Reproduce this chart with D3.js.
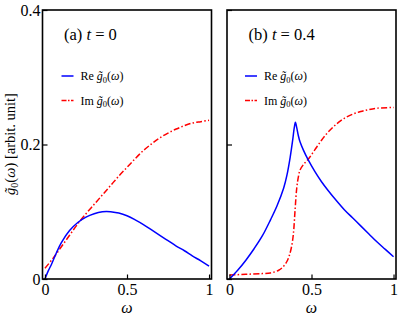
<!DOCTYPE html>
<html><head><meta charset="utf-8"><script src="https://cdn.jsdelivr.net/npm/d3@7"></script></head>
<body style="margin:0">
<svg id="chart" width="411" height="319"></svg>
<script>
// ---- data ----
const omegaA = [0, 0.02, 0.04, 0.07, 0.1, 0.15, 0.2, 0.25, 0.3, 0.35, 0.375, 0.4, 0.45, 0.5, 0.55, 0.6, 0.65, 0.7, 0.75, 0.8, 0.85, 0.9, 0.95, 1.0];
const reA    = [0, 0.012, 0.022, 0.039, 0.054, 0.072, 0.084, 0.092, 0.097, 0.1, 0.1005, 0.1, 0.098, 0.094, 0.088, 0.081, 0.073, 0.065, 0.057, 0.049, 0.042, 0.034, 0.027, 0.019];
const omegaAim = [0, 0.05, 0.1, 0.15, 0.2, 0.25, 0.3, 0.35, 0.4, 0.45, 0.5, 0.55, 0.6, 0.65, 0.7, 0.75, 0.8, 0.85, 0.9, 0.95, 1.0];
const imA    = [0.016, 0.031, 0.048, 0.065, 0.082, 0.097, 0.111, 0.125, 0.139, 0.153, 0.166, 0.179, 0.191, 0.201, 0.21, 0.217, 0.223, 0.228, 0.232, 0.234, 0.236];

const omegaB = [0, 0.05, 0.1, 0.15, 0.2, 0.25, 0.29, 0.33, 0.35, 0.37, 0.385, 0.395, 0.402, 0.41, 0.42, 0.43, 0.45, 0.48, 0.52, 0.56, 0.6, 0.65, 0.7, 0.75, 0.8, 0.85, 0.9, 0.95, 1.0];
const reB    = [0, 0.013, 0.028, 0.045, 0.064, 0.088, 0.109, 0.135, 0.154, 0.181, 0.206, 0.225, 0.233, 0.225, 0.213, 0.204, 0.192, 0.177, 0.16, 0.145, 0.132, 0.117, 0.103, 0.091, 0.079, 0.067, 0.055, 0.044, 0.033];
const omegaBim = [0, 0.1, 0.2, 0.25, 0.3, 0.33, 0.35, 0.365, 0.38, 0.39, 0.4, 0.41, 0.42, 0.43, 0.45, 0.48, 0.52, 0.56, 0.6, 0.65, 0.7, 0.75, 0.8, 0.85, 0.9, 1.0];
const imB    = [0.006, 0.007, 0.008, 0.009, 0.013, 0.019, 0.026, 0.035, 0.05, 0.068, 0.103, 0.135, 0.152, 0.162, 0.17, 0.178, 0.192, 0.206, 0.218, 0.23, 0.239, 0.245, 0.249, 0.252, 0.254, 0.255];

const yTicks = [0, 0.2, 0.4];
const yTickLabels = ["0", "0.2", "0.4"];
const xTicks = [0, 0.5, 1];
const xTickLabels = ["0", "0.5", "1"];
const panelTitles = [["(a) ", "t", " = 0"], ["(b) ", "t", " = 0.4"]];

const panels = [
  { x0: 42.5, re: { w: omegaA, v: reA }, im: { w: omegaAim, v: imA }, title: panelTitles[0], labels: true },
  { x0: 227,  re: { w: omegaB, v: reB }, im: { w: omegaBim, v: imB }, title: panelTitles[1], labels: false }
];

const FONT = "Liberation Serif";
const svg = d3.select("#chart");
const W = 169, plotTop = 10, plotBottom = 279;
const y = d3.scaleLinear().domain([0, 0.4]).range([plotBottom, plotTop]);
const blue = "#0000ff", red = "#ff0000";

function serif(sel, size) {
  return sel.attr("font-family", FONT).style("font-family", FONT).attr("font-size", size).style("font-size", size + "px");
}

panels.forEach(p => {
  const x = d3.scaleLinear().domain([-0.015, 1.015]).range([p.x0, p.x0 + W]);
  const g = svg.append("g");

  const cid = "clip" + Math.round(p.x0);
  svg.append("clipPath").attr("id", cid).append("rect")
    .attr("x", p.x0).attr("y", plotTop).attr("width", W).attr("height", plotBottom - plotTop);

  const line = d3.line().x(d => x(d[0])).y(d => y(d[1])).curve(d3.curveCatmullRom.alpha(0.5));

  g.append("path").datum(d3.zip(p.im.w, p.im.v))
    .attr("d", line).attr("fill", "none").attr("stroke", red)
    .attr("stroke-width", 1.5).attr("stroke-dasharray", "6,2.2,1.5,2.2")
    .attr("clip-path", `url(#${cid})`);
  g.append("path").datum(d3.zip(p.re.w, p.re.v))
    .attr("d", line).attr("fill", "none").attr("stroke", blue)
    .attr("stroke-width", 1.5)
    .attr("clip-path", `url(#${cid})`);

  const xa = d3.axisBottom(x).tickValues(xTicks).tickSizeInner(-4.5).tickSizeOuter(0).tickPadding(5)
    .tickFormat((d, i) => xTickLabels[i]);
  const gx = g.append("g").attr("transform", `translate(0,${plotBottom})`).call(xa)
    .attr("font-family", FONT).attr("font-size", 16);
  gx.select(".domain").remove();
  gx.selectAll("line").attr("stroke", "#000").attr("stroke-width", 1.2);
  serif(gx.selectAll("text"), 16).attr("fill", "#000");

  const ya = d3.axisLeft(y).tickValues(yTicks).tickSizeInner(-5).tickSizeOuter(0).tickPadding(2)
    .tickFormat((d, i) => p.labels ? yTickLabels[i] : "");
  const gy = g.append("g").attr("transform", `translate(${p.x0},0)`).call(ya)
    .attr("font-family", FONT).attr("font-size", 16);
  gy.select(".domain").remove();
  gy.selectAll("line").attr("stroke", "#000").attr("stroke-width", 1.2);
  serif(gy.selectAll("text"), 16).attr("fill", "#000");

  g.append("rect").attr("x", p.x0).attr("y", plotTop).attr("width", W).attr("height", plotBottom - plotTop)
    .attr("fill", "none").attr("stroke", "#000").attr("stroke-width", 1.6);

  serif(g.append("text"), 16).attr("x", x(0.5)).attr("y", 313).attr("text-anchor", "middle")
    .attr("font-style", "italic").text("ω");

  const t = serif(g.append("text"), 16.5).attr("x", p.x0 + 21.5).attr("y", 40);
  t.append("tspan").text(p.title[0]);
  t.append("tspan").attr("font-style", "italic").text(p.title[1]);
  t.append("tspan").text(p.title[2]);

  const lx = p.x0 + (p.labels ? 19 : 18);
  [["Re ", blue, null, 80], ["Im ", red, "5,1.5,1.5,1.5", 104.5]].forEach(([lab, col, dash, ly]) => {
    const l = g.append("line").attr("x1", lx).attr("x2", lx + 12).attr("y1", ly - 4).attr("y2", ly - 4)
      .attr("stroke", col).attr("stroke-width", 1.5);
    if (dash) l.attr("stroke-dasharray", dash);
    const tx = serif(g.append("text"), 12).attr("x", lx + 19).attr("y", ly);
    tx.append("tspan").text(lab);
    tx.append("tspan").attr("font-style", "italic").text("g\u0303");
    tx.append("tspan").attr("font-size", 8.5).style("font-size", "8.5px").attr("dy", 2.5).text("0");
    tx.append("tspan").attr("dy", -2.5).text("(");
    tx.append("tspan").attr("font-style", "italic").text("ω");
    tx.append("tspan").text(")");
  });
});

const yl = serif(svg.append("text"), 14.5).attr("transform", "translate(15,144) rotate(-90)")
  .attr("text-anchor", "middle");
yl.append("tspan").attr("font-style", "italic").text("g\u0303");
yl.append("tspan").attr("font-size", 10).style("font-size", "10px").attr("dy", 3).text("0");
yl.append("tspan").attr("dy", -3).text("(");
yl.append("tspan").attr("font-style", "italic").text("ω");
yl.append("tspan").text(") [arbit. unit]");
</script>
</body>
</html>
